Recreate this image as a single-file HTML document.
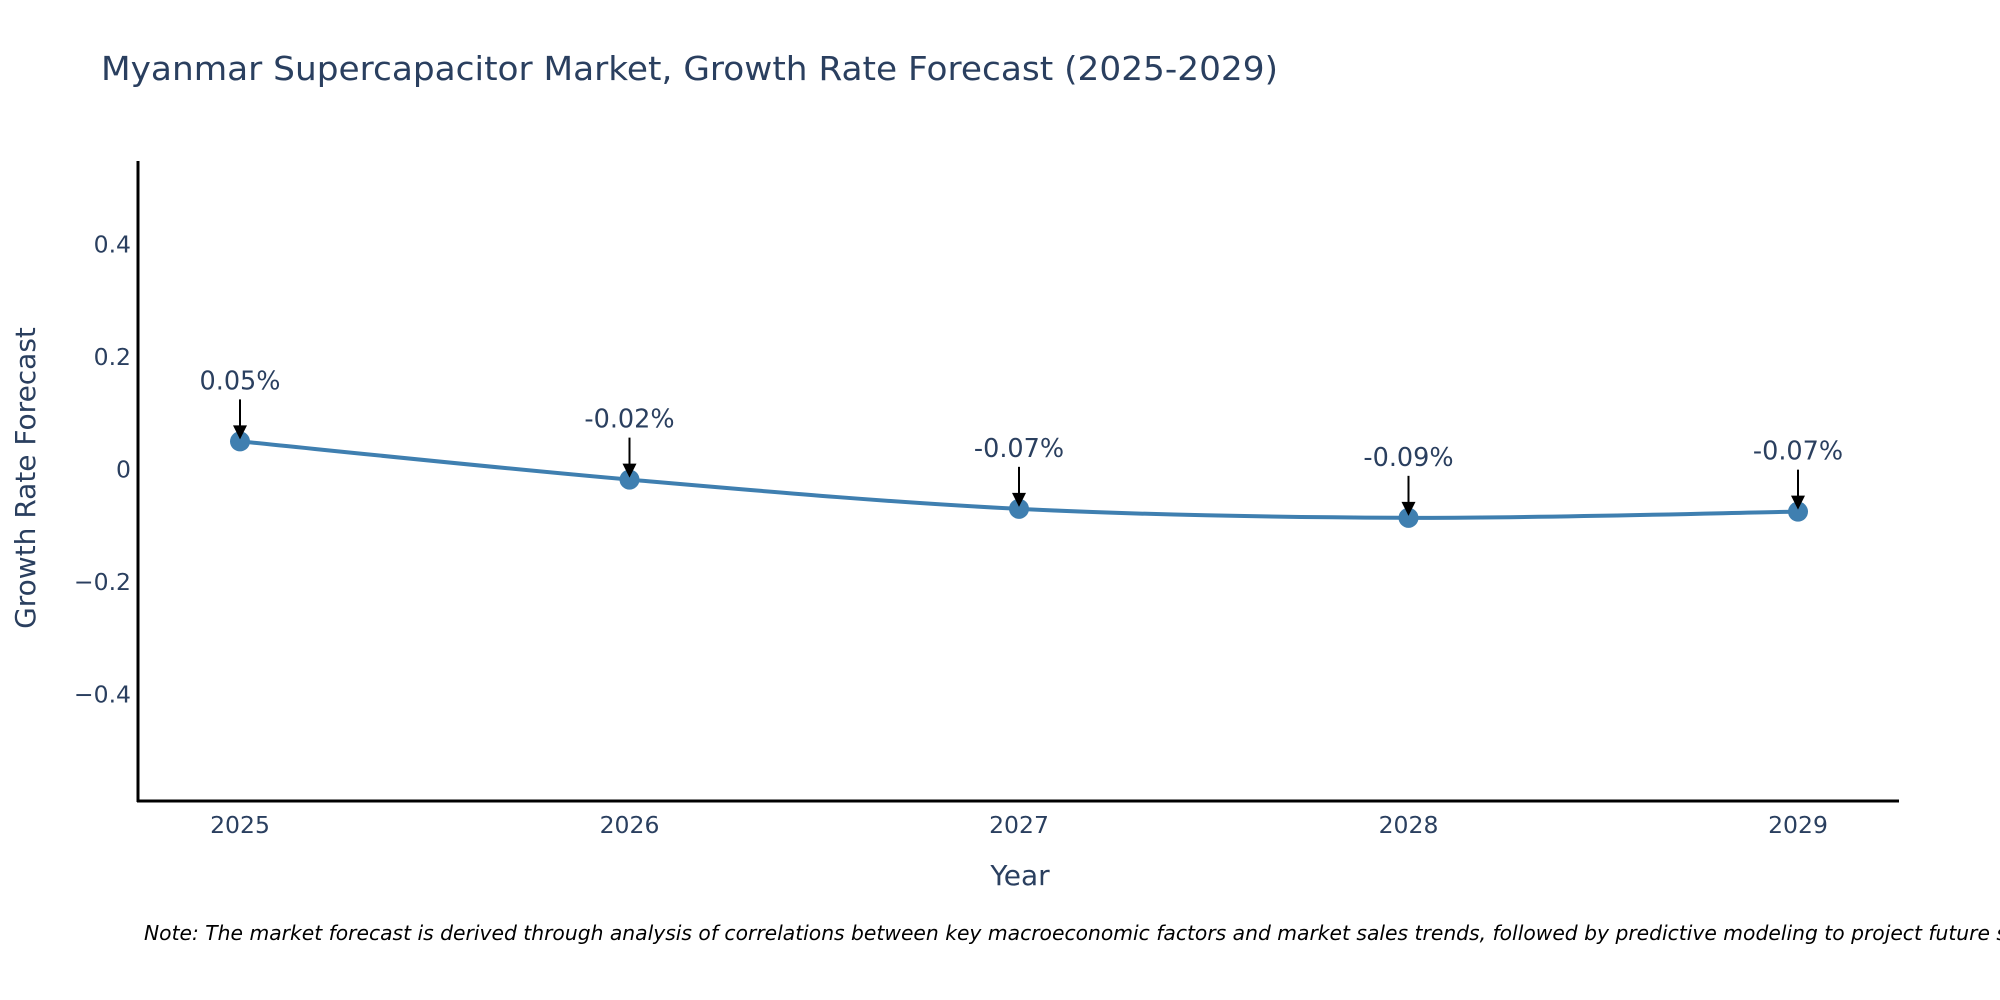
<!DOCTYPE html>
<html><head><meta charset="utf-8"><style>
html,body{margin:0;padding:0;background:#fff;width:2000px;height:1000px;overflow:hidden}
svg text{font-family:"DejaVu Sans","Liberation Sans",sans-serif}
</style></head><body>
<svg id="chart" width="2000" height="1000" viewBox="0 0 2000 1000" xmlns="http://www.w3.org/2000/svg">
<text x="101" y="80" font-size="33" fill="#2a3f5f" textLength="1177" lengthAdjust="spacingAndGlyphs">Myanmar Supercapacitor Market, Growth Rate Forecast (2025-2029)</text>
<g id="yticks"></g>
<g id="xticks"></g>
<path id="line" fill="none" stroke="#3f7fb0" stroke-width="4"/>
<g id="marks"></g>
<g id="anns"></g>
<line x1="138" y1="161" x2="138" y2="802" stroke="#000" stroke-width="3"/>
<line x1="137" y1="801" x2="1899" y2="801" stroke="#000" stroke-width="3"/>
<text x="1020" y="885" font-size="28" fill="#2a3f5f" text-anchor="middle">Year</text>
<text transform="translate(35,478) rotate(-90)" font-size="28" fill="#2a3f5f" text-anchor="middle">Growth Rate Forecast</text>
<text x="144" y="940" font-size="20.3" font-style="italic" fill="#000">Note: The market forecast is derived through analysis of correlations between key macroeconomic factors and market sales trends, followed by predictive modeling to project future sales.</text>
</svg>
<script>
const years = [2025, 2026, 2027, 2028, 2029];
const growth = [0.05, -0.018, -0.07, -0.086, -0.075];
const labels = ["0.05%", "-0.02%", "-0.07%", "-0.09%", "-0.07%"];
const yTickVals = [0.4, 0.2, 0, -0.2, -0.4];
const yTickText = ["0.4", "0.2", "0", "\u22120.2", "\u22120.4"];

const NS = "http://www.w3.org/2000/svg";
function xs(yr){ return 240 + (yr - 2025) * 389.5; }
function ys(v){ return 469.5 - v * 562; }
function mk(tag, attrs, parent){ const e=document.createElementNS(NS,tag); for(const k in attrs) e.setAttribute(k,attrs[k]); parent.appendChild(e); return e; }

const yt=document.getElementById('yticks');
yTickVals.forEach((v,i)=>{
  const t=mk('text',{x:131,y:ys(v)+8,'font-size':23.5,fill:'#2a3f5f','text-anchor':'end'},yt);
  
  
  t.textContent=yTickText[i];
});
const xt=document.getElementById('xticks');
years.forEach(y=>{
  const t=mk('text',{x:xs(y),y:833,'font-size':23.5,fill:'#2a3f5f','text-anchor':'middle'},xt);
  
  
  t.textContent=String(y);
});

const P=years.map((y,i)=>[xs(y),ys(growth[i])]);
let d='M'+P[0][0]+','+P[0][1];
for(let i=0;i<P.length-1;i++){
  const p0=P[Math.max(0,i-1)],p1=P[i],p2=P[i+1],p3=P[Math.min(P.length-1,i+2)];
  const k=1/6;
  const c1=[p1[0]+(p2[0]-p0[0])*k,p1[1]+(p2[1]-p0[1])*k];
  const c2=[p2[0]-(p3[0]-p1[0])*k,p2[1]-(p3[1]-p1[1])*k];
  d+=' C'+c1+' '+c2+' '+p2;
}
document.getElementById('line').setAttribute('d',d);

const mg=document.getElementById('marks');
const ag=document.getElementById('anns');
P.forEach((p,i)=>{
  const c=mk('circle',{cx:p[0],cy:p[1],r:10,fill:'#3f7fb0'},mg);
  
  
  const l=mk('line',{x1:p[0],y1:p[1]-42,x2:p[0],y2:p[1]-12,stroke:'#000','stroke-width':2},ag);
  
  
  const h=mk('polygon',{points:(p[0]-7)+','+(p[1]-16)+' '+(p[0]+7)+','+(p[1]-16)+' '+p[0]+','+(p[1]-2),fill:'#000'},ag);
  
  
  const t=mk('text',{x:p[0],y:p[1]-52,'font-size':25.5,fill:'#2a3f5f','text-anchor':'middle'},ag);
  
  
  t.textContent=labels[i];
});
</script>
</body></html>
